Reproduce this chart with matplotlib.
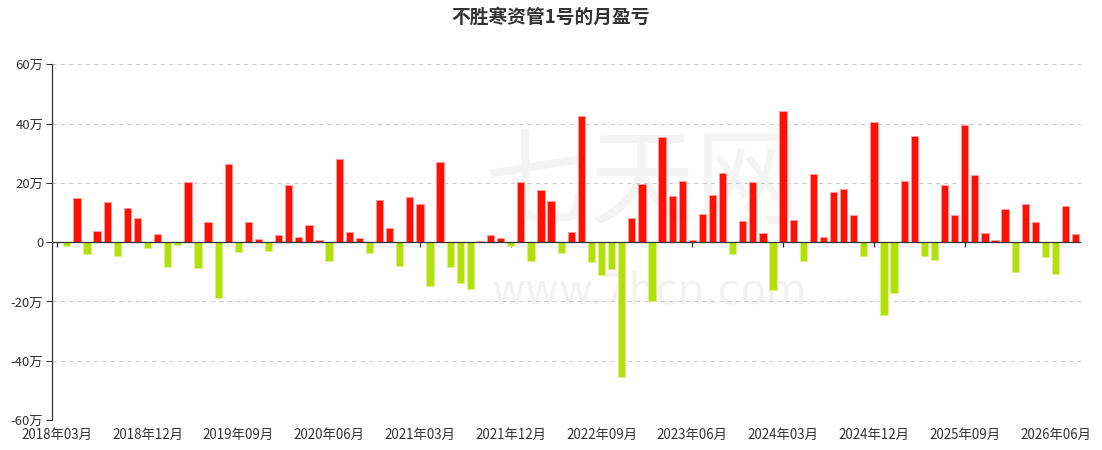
import matplotlib
matplotlib.use("Agg")
import matplotlib.pyplot as plt
import numpy as np

plt.rcParams['font.family'] = ['Noto Sans CJK SC', 'DejaVu Sans']

title = "不胜寒资管1号的月盈亏"

# categories: months 2018-03 .. 2026-08
months = []
y, m = 2018, 3
while (y, m) <= (2026, 8):
    months.append(f"{y}年{m:02d}月")
    m += 1
    if m > 12:
        y, m = y + 1, 1

# monthly profit / loss, unit: 万
values = [
    0, -1.2, 14.8, -4.0, 3.6, 13.6, -4.7, 11.6, 8.1, -2.1,
    2.6, -8.4, -1.0, 20.3, -8.7, 6.9, -18.7, 26.4, -3.4, 6.9,
    1.0, -2.9, 2.4, 19.4, 1.8, 5.8, 0.6, -6.4, 28.0, 3.3,
    1.3, -3.6, 14.3, 4.8, -8.1, 15.2, 12.8, -14.7, 27.2, -8.4,
    -13.9, -15.8, 0.4, 2.4, 1.5, -1.3, 20.4, -6.5, 17.5, 14.0,
    -3.7, 3.5, 42.6, -6.6, -11.1, -9.2, -45.5, 8.0, 19.7, -19.7,
    35.5, 15.6, 20.7, 0.6, 9.4, 16.0, 23.4, -3.9, 7.3, 20.4,
    3.1, -16.0, 44.4, 7.4, -6.5, 23.1, 1.6, 16.9, 17.9, 9.1,
    -4.8, 40.4, -24.5, -17.2, 20.6, 35.7, -4.7, -6.1, 19.4, 9.1,
    39.4, 22.6, 3.0, 0.7, 11.1, -10.1, 12.8, 6.9, -5.1, -10.7,
    12.2, 2.7,
]

y_ticks = [-60, -40, -20, 0, 20, 40, 60]
label_step = 9

RED = '#ff1000'
GREEN = '#b3e008'
RED_EDGE = '#ff9a9a'
GREEN_EDGE = '#dcf08a'
TEXT = '#333333'

fig = plt.figure(figsize=(11.02, 4.5), dpi=100)
ax = fig.add_axes([0.0469, 0.0667, 0.9338, 0.7903])

# watermark
ax.text(0.575, 0.66, "七天网", transform=ax.transAxes, ha='center', va='center',
        fontsize=76, color='#f4f4f4', zorder=0)
ax.text(0.58, 0.36, "www.7hcn.com", transform=ax.transAxes, ha='center', va='center',
        fontsize=30, color='#f2f2f2', zorder=0, family=['DejaVu Sans'])

x = np.arange(len(values))
vals = np.array(values)
colors = [RED if v >= 0 else GREEN for v in vals]
edges = [RED_EDGE if v >= 0 else GREEN_EDGE for v in vals]
ax.bar(x, vals, width=0.72, color=colors, edgecolor=edges, linewidth=0.75, zorder=3)

ax.set_xlim(-0.5, len(values) - 0.5)
ax.set_ylim(-60, 60)

ax.set_yticks(y_ticks)
ax.set_yticklabels([("0" if t == 0 else f"{t}万") for t in y_ticks])
ax.yaxis.grid(True, color='#cccccc', linestyle=(0, (4, 4)), linewidth=0.75, zorder=1)
ax.set_axisbelow(True)

ax.set_xticks(x[::label_step])
ax.set_xticklabels(months[::label_step])
ax.tick_params(axis='x', length=0, pad=6, labelsize=9.6, labelcolor=TEXT)
ax.tick_params(axis='y', length=4, width=0.75, color=TEXT, pad=2,
               labelsize=9.5, labelcolor=TEXT)

for s in ['top', 'right', 'bottom']:
    ax.spines[s].set_visible(False)
ax.spines['left'].set_color(TEXT)
ax.spines['left'].set_linewidth(0.9)

# zero axis line with small downward ticks (ticks sit beneath bars)
ax.axhline(0, color=TEXT, linewidth=0.9, zorder=4)
ax.vlines(x[::label_step], -1.6, 0, color=TEXT, linewidth=0.9, zorder=2)

fig.text(0.5, 0.962, title, ha='center', va='center', fontsize=13.5,
         fontweight='bold', color=TEXT)

fig.savefig("out.png", dpi=100)
